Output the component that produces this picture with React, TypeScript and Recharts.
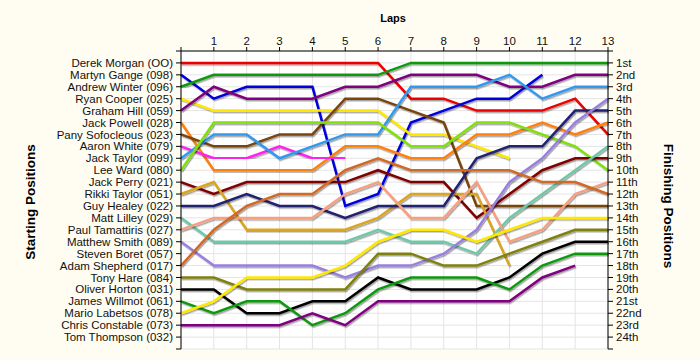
import { CartesianGrid, Line, LineChart, XAxis, YAxis } from "recharts";

// lap numbers on the top axis
const laps = [0, 1, 2, 3, 4, 5, 6, 7, 8, 9, 10, 11, 12, 13];

// starting grid, top to bottom
const drivers = [
  "Derek Morgan (OO)", "Martyn Gange (098)", "Andrew Winter (096)", "Ryan Cooper (025)",
  "Graham Hill (059)", "Jack Powell (028)", "Pany Sofocleous (023)", "Aaron White (079)",
  "Jack Taylor (099)", "Lee Ward (080)", "Jack Perry (021)", "Rikki Taylor (051)",
  "Guy Healey (022)", "Matt Lilley (029)", "Paul Tamattiris (027)", "Matthew Smith (089)",
  "Steven Boret (057)", "Adam Shepherd (017)", "Tony Hare (084)", "Oliver Horton (031)",
  "James Willmot (061)", "Mario Labetsos (078)", "Chris Constable (073)", "Tom Thompson (032)",
];

const finishLabels = [
  "1st", "2nd", "3rd", "4th", "5th", "6th", "7th", "8th", "9th", "10th", "11th", "12th",
  "13th", "14th", "15th", "16th", "17th", "18th", "19th", "20th", "21st", "22nd", "23rd", "24th",
];

// position at the end of each lap (index = lap)
const morgan = [1, 1, 1, 1, 1, 1, 1, 4, 4, 5, 5, 5, 4, 7];
const gange = [2, 4, 3, 3, 3, 13, 12, 6, 5, 4, 4, 2];
const winter = [3, 2, 2, 2, 2, 2, 2, 1, 1, 1, 1, 1, 1, 1];
const cooper = [4, 5, 5, 5, 5, 5, 5, 7, 7, 8, 9];
const hill = [5, 3, 4, 4, 4, 3, 3, 2, 2, 2, 3, 3, 2, 2];
const powell = [6, 10, 10, 10, 10, 8, 8, 9, 9, 7, 7, 6, 7, 6];
const sofocleous = [7, 8, 8, 7, 7, 4, 4, 5, 6, 13, 13, 13, 13, 13];
const white = [8, 9, 9, 8, 9, 9];
const jTaylor = [9, 7, 7, 9, 8, 7, 7, 3, 3, 3, 2, 4, 3, 3];
const ward = [10, 6, 6, 6, 6, 6, 6, 8, 8, 6, 6, 7, 8, 10];
const perry = [11, 12, 11, 11, 11, 11, 10, 11, 11, 14, 12, 10, 9, 9];
const rTaylor = [12, 11, 15, 15, 15, 15, 14, 12, 12, 12, 18];
const healey = [13, 13, 12, 13, 13, 14, 13, 13, 13, 9, 8, 8, 5, 5];
const lilley = [14, 16, 16, 16, 16, 16, 15, 16, 16, 17, 14, 12, 10, 8];
const tamattiris = [15, 14, 14, 14, 14, 12, 11, 14, 14, 11, 16, 15, 12, 11];
const smith = [16, 18, 18, 18, 18, 19, 18, 18, 17, 15, 11, 9, 6, 4];
const boret = [17, 17, 17, 17, 17, 17];
const shepherd = [18, 15, 13, 12, 12, 10, 9, 10, 10, 10, 10, 11, 11, 12];
const hare = [19, 19, 20, 20, 20, 20, 17, 17, 18, 18, 17, 16, 15, 15];
const horton = [20, 20, 22, 22, 21, 21, 19, 20, 20, 20, 19, 17, 16, 16];
const willmot = [21, 22, 21, 21, 23, 22, 20, 19, 19, 19, 20, 18, 17, 17];
const labetsos = [22, 21, 19, 19, 19, 18, 16, 15, 15, 16, 15, 14, 14, 14];
const constable = [23, 23, 23, 23, 22, 23, 21, 21, 21, 21, 21, 19, 18];
const thompson: number[] = [];

const positions = [
  morgan, gange, winter, cooper, hill, powell, sofocleous, white, jTaylor, ward, perry, rTaylor,
  healey, lilley, tamattiris, smith, boret, shepherd, hare, horton, willmot, labetsos, constable, thompson,
];

const colors = [
  "#ee0000", "#0000dd", "#119911", "#ffe800", "#800080", "#ff8010", "#7a4510", "#ff22ee",
  "#3399ee", "#80e010", "#800000", "#daa520", "#202070", "#70c8a8", "#f5a080", "#9980dd",
  "#3a5555", "#d06a28", "#808010", "#000000", "#119911", "#ffe800", "#800080", "#444444",
];

const posTicks = Array.from({ length: 26 }, (_, i) => i);

const rows = laps.map((lap) => {
  const r: Record<string, number> = { lap };
  positions.forEach((p, i) => {
    if (p[lap] !== undefined) r["d" + i] = p[lap];
  });
  return r;
});

const font = '"Liberation Sans", Arial, sans-serif';
const tickStyle = { fontSize: 11.5, fill: "#111", fontFamily: font };

export default function App() {
  return (
    <div style={{ position: "absolute", left: 0, top: 0, width: 700, height: 360, background: "#fffdf2", fontFamily: font }}>
      <LineChart width={700} height={360} data={rows} margin={{ top: 0, right: 0, bottom: 11, left: 0 }}>
        <defs>
          <filter id="lineShadow" x="-5%" y="-5%" width="110%" height="110%">
            <feDropShadow dx="1" dy="1.5" stdDeviation="0.6" floodColor="#000" floodOpacity="0.35" />
          </filter>
        </defs>
        <CartesianGrid yAxisId="left" stroke="#e4e4e4" fill="#ffffff" />
        <XAxis
          dataKey="lap"
          type="number"
          orientation="top"
          domain={[0, 13]}
          ticks={laps}
          interval={0}
          height={51}
          tickSize={4}
          tickMargin={2}
          tick={tickStyle}
          tickFormatter={(v: number) => (v === 0 ? "" : String(v))}
          axisLine={{ stroke: "#000" }}
          tickLine={{ stroke: "#000" }}
        />
        <YAxis
          yAxisId="left"
          type="number"
          domain={[0, 25]}
          reversed
          ticks={posTicks}
          interval={0}
          width={181}
          tickSize={5}
          tickMargin={3}
          tick={tickStyle}
          tickFormatter={(v: number) => drivers[v - 1] ?? ""}
          axisLine={{ stroke: "#000" }}
          tickLine={{ stroke: "#000" }}
        />
        <YAxis
          yAxisId="right"
          orientation="right"
          type="number"
          domain={[0, 25]}
          reversed
          ticks={posTicks}
          interval={0}
          width={92}
          tickSize={5}
          tickMargin={3}
          tick={tickStyle}
          tickFormatter={(v: number) => finishLabels[v - 1] ?? ""}
          axisLine={{ stroke: "#000" }}
          tickLine={{ stroke: "#000" }}
        />
        {positions.map((p, i) =>
          p.length === 0 ? null : (
            <Line
              key={drivers[i]}
              yAxisId={i % 2 === 0 ? "left" : "right"}
              type="linear"
              dataKey={"d" + i}
              stroke={colors[i]}
              strokeWidth={2.5}
              dot={false}
              activeDot={false}
              filter="url(#lineShadow)"
              isAnimationActive={false}
            />
          )
        )}
      </LineChart>
      <div style={{ position: "absolute", left: 393, top: 18, transform: "translate(-50%, -50%)", fontSize: 11, fontWeight: "bold" }}>
        Laps
      </div>
      <div
        style={{ position: "absolute", left: 30, top: 202, transform: "translate(-50%, -50%) rotate(-90deg)", fontSize: 13.5, fontWeight: "bold", whiteSpace: "nowrap" }}
      >
        Starting Positions
      </div>
      <div
        style={{ position: "absolute", left: 668, top: 206, transform: "translate(-50%, -50%) rotate(90deg)", fontSize: 13.5, fontWeight: "bold", whiteSpace: "nowrap" }}
      >
        Finishing Positions
      </div>
    </div>
  );
}
